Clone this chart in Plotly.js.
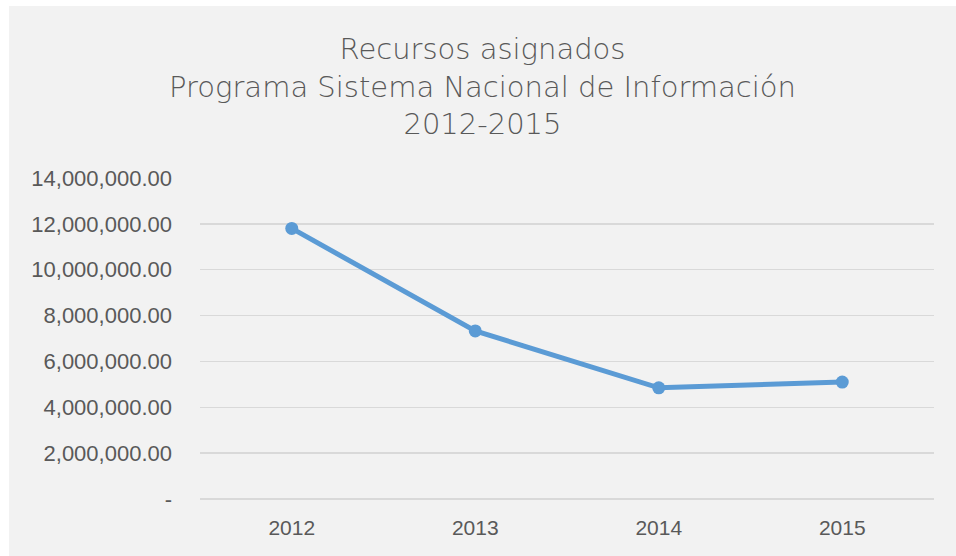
<!DOCTYPE html>
<html>
<head>
<meta charset="utf-8">
<script src="https://cdn.plot.ly/plotly-3.0.1.min.js"></script>
<style>
html,body{margin:0;padding:0;background:#ffffff;overflow:hidden;}
#chart{position:absolute;left:9px;top:6px;width:947px;height:550px;}
</style>
</head>
<body>
<div id="chart"></div>
<script>
const years = ['2012', '2013', '2014', '2015'];
const recursos = [11800000, 7330000, 4850000, 5100000];
const yTicks = [0, 2000000, 4000000, 6000000, 8000000, 10000000, 12000000, 14000000];
const yTickLabels = ['-', '2,000,000.00', '4,000,000.00', '6,000,000.00', '8,000,000.00', '10,000,000.00', '12,000,000.00', '14,000,000.00'];
const titleText = 'Recursos asignados<br>Programa Sistema Nacional de Información<br>2012-2015';

const trace = {
  x: years,
  y: recursos,
  type: 'scatter',
  mode: 'lines+markers',
  line: {color: '#5b9bd5', width: 5},
  marker: {color: '#5b9bd5', size: 13},
  hoverinfo: 'x+y'
};

const layout = {
  width: 947,
  height: 550,
  paper_bgcolor: '#f2f2f2',
  plot_bgcolor: '#f2f2f2',
  margin: {l: 191, r: 22, t: 172, b: 57},
  showlegend: false,
  title: {
    text: titleText,
    x: 0.5,
    xanchor: 'center',
    yref: 'container',
    y: 0.904,
    yanchor: 'middle',
    font: {family: 'DejaVu Sans', size: 29, color: '#595959', weight: 200}
  },
  xaxis: {
    type: 'category',
    range: [-0.5, 3.5],
    showgrid: false,
    zeroline: false,
    showline: false,
    ticks: '',
    tickfont: {family: 'Liberation Sans', size: 21, color: '#595959'},
    ticklabelstandoff: 14
  },
  yaxis: {
    range: [0, 14000000],
    tickvals: yTicks,
    ticktext: yTickLabels,
    showgrid: true,
    gridcolor: '#d9d9d9',
    gridwidth: 1.3,
    zeroline: true,
    zerolinecolor: '#d9d9d9',
    zerolinewidth: 1.3,
    showline: false,
    ticks: '',
    tickfont: {family: 'Liberation Sans', size: 22, color: '#595959'},
    ticklabelstandoff: 27
  }
};

Plotly.newPlot('chart', [trace], layout, {displayModeBar: false, staticPlot: true});
</script>
</body>
</html>
